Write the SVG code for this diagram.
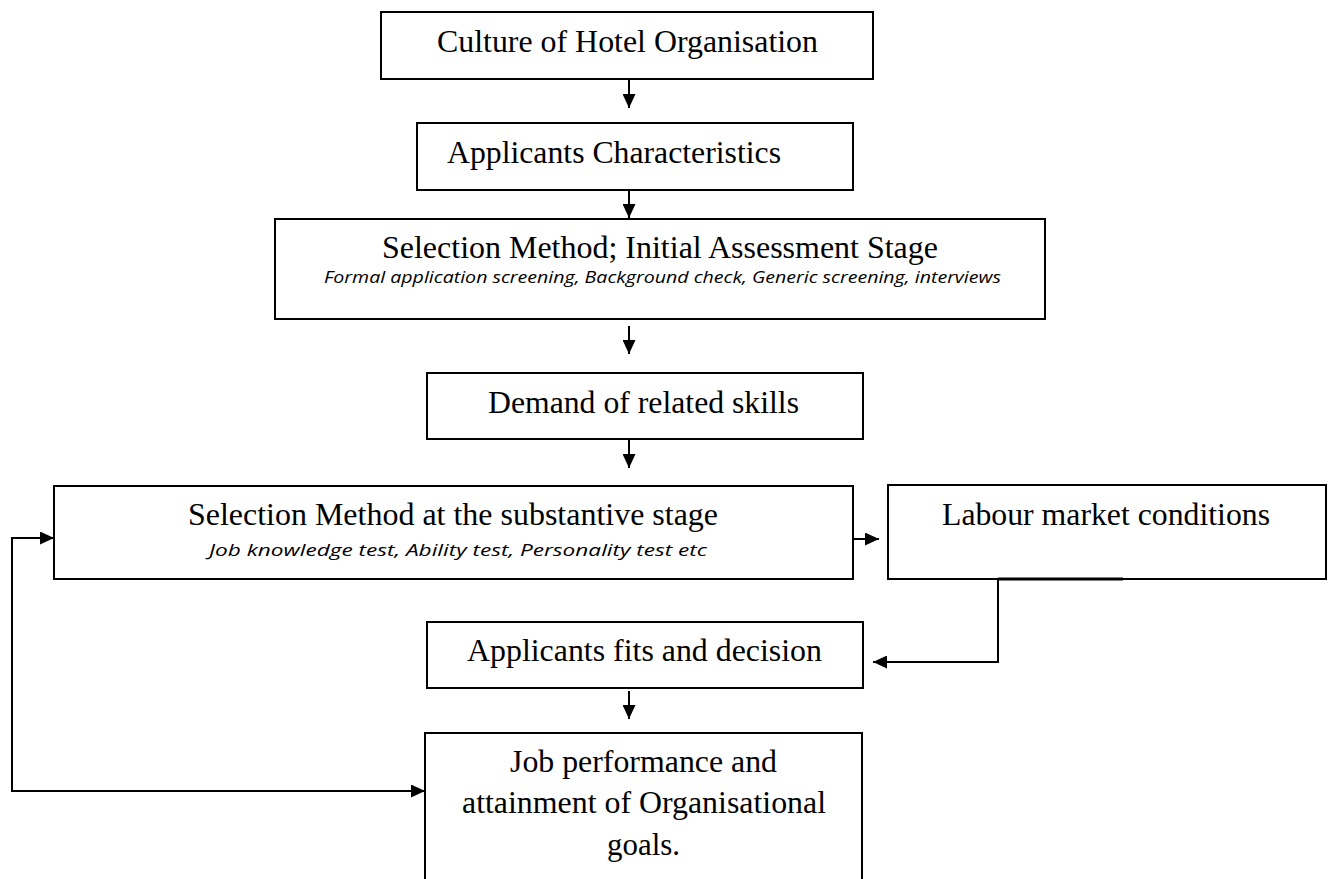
<svg xmlns="http://www.w3.org/2000/svg" width="1329" height="879" viewBox="0 0 1329 879">
<style>
.box{fill:#fff;stroke:#000;stroke-width:2}
.t{font-family:"Liberation Serif","Times New Roman",serif;font-size:32px;fill:#000}
.c{text-anchor:middle}
.it{font-family:"Open Sans","Liberation Sans",sans-serif;font-style:italic;font-size:17px;fill:#000;text-anchor:middle}
.ln{fill:none;stroke:#000;stroke-width:2}
</style>
<defs>
<marker id="ah" viewBox="0 0 14 13" refX="14" refY="6.5" markerWidth="14" markerHeight="13" orient="auto-start-reverse" markerUnits="userSpaceOnUse">
<path d="M0,0 L14,6.5 L0,13 z" fill="#000"/>
</marker>
</defs>
<rect width="1329" height="879" fill="#fff"/>
<g id="n1">
<rect class="box" x="381" y="12" width="492" height="67"/>
<text class="t c" x="627.5" y="52" textLength="381" lengthAdjust="spacingAndGlyphs">Culture of Hotel Organisation</text>
</g>
<g id="n2">
<rect class="box" x="417" y="123" width="436" height="67"/>
<text class="t" x="447" y="163" textLength="334" lengthAdjust="spacingAndGlyphs">Applicants Characteristics</text>
</g>
<g id="n3">
<rect class="box" x="275" y="219" width="770" height="100"/>
<text class="t c" x="660" y="258" textLength="556" lengthAdjust="spacingAndGlyphs">Selection Method; Initial Assessment Stage</text>
<text class="it" x="662.5" y="283" textLength="677" lengthAdjust="spacingAndGlyphs">Formal application screening, Background check, Generic screening, interviews</text>
</g>
<g id="n4">
<rect class="box" x="427" y="373" width="436" height="66"/>
<text class="t c" x="643.5" y="413" textLength="311" lengthAdjust="spacingAndGlyphs">Demand of related skills</text>
</g>
<g id="n5">
<rect class="box" x="54" y="486" width="799" height="93"/>
<text class="t c" x="453" y="525" textLength="530" lengthAdjust="spacingAndGlyphs">Selection Method at the substantive stage</text>
<text class="it" x="458" y="556" textLength="498" lengthAdjust="spacingAndGlyphs">Job knowledge test, Ability test, Personality test etc</text>
</g>
<g id="n6">
<rect class="box" x="888" y="485" width="438" height="94"/>
<text class="t c" x="1106" y="525" textLength="328" lengthAdjust="spacingAndGlyphs">Labour market conditions</text>
</g>
<g id="n7">
<rect class="box" x="427" y="622" width="436" height="66"/>
<text class="t c" x="644.5" y="661" textLength="355" lengthAdjust="spacingAndGlyphs">Applicants fits and decision</text>
</g>
<g id="n8">
<rect class="box" x="425" y="733" width="437" height="160"/>
<text class="t c" x="643.5" y="772" textLength="267" lengthAdjust="spacingAndGlyphs">Job performance and</text>
<text class="t c" x="644" y="813" textLength="364" lengthAdjust="spacingAndGlyphs">attainment of Organisational</text>
<text class="t c" x="643.5" y="855" textLength="73" lengthAdjust="spacingAndGlyphs">goals.</text>
</g>
<g id="connectors">
<line class="ln" x1="629" y1="79" x2="629" y2="108" marker-end="url(#ah)"/>
<line class="ln" x1="629" y1="190" x2="629" y2="218" marker-end="url(#ah)"/>
<line class="ln" x1="629" y1="326" x2="629" y2="354" marker-end="url(#ah)"/>
<line class="ln" x1="629" y1="439" x2="629" y2="468" marker-end="url(#ah)"/>
<line class="ln" x1="853" y1="539" x2="879" y2="539" marker-end="url(#ah)"/>
<line x1="998" y1="579" x2="1123" y2="579" stroke="#000" stroke-width="3"/>
<path class="ln" d="M998,579 V662 H873" marker-end="url(#ah)"/>
<line class="ln" x1="629" y1="691" x2="629" y2="719" marker-end="url(#ah)"/>
<path class="ln" d="M54,538 H12 V791 H425" marker-start="url(#ah)" marker-end="url(#ah)"/>
</g>
</svg>
